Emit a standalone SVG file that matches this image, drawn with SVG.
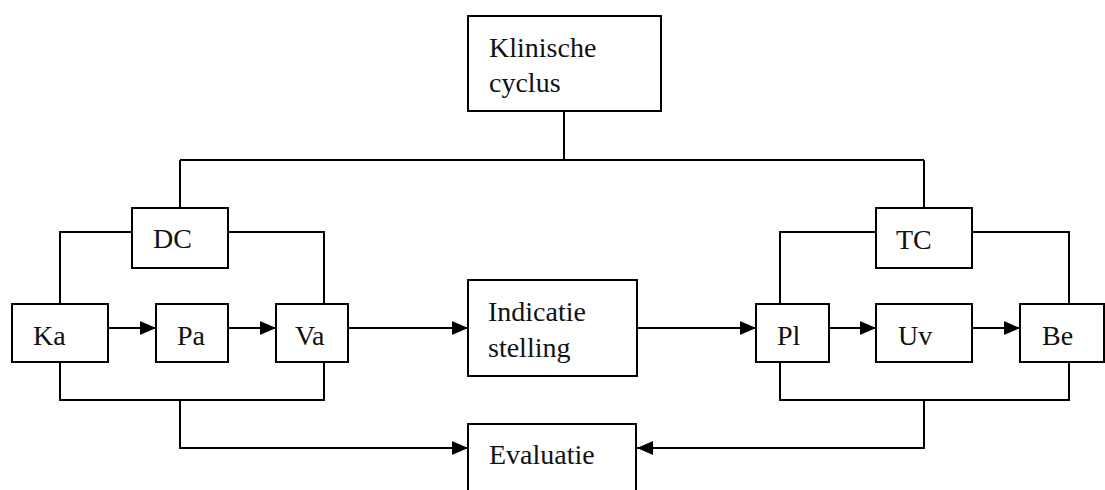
<svg xmlns="http://www.w3.org/2000/svg" width="1105" height="490" viewBox="0 0 1105 490">
<style>
.box{fill:#fff;stroke:#000;stroke-width:2}
.ln{fill:none;stroke:#000;stroke-width:2}
.t{font-family:"Liberation Serif","DejaVu Serif",serif;font-size:28px;fill:#111}
</style>
<defs>
<marker id="ah" markerUnits="userSpaceOnUse" markerWidth="16" markerHeight="14" refX="16" refY="7" orient="auto">
<path d="M0,0 L16,7 L0,14 z" fill="#000"/>
</marker>
</defs>
<rect width="1105" height="490" fill="#fff"/>
<g id="connectors">
<path class="ln" d="M564,111 V160 M180,160 H924 M180,160 V208 M924,160 V208"/>
<path class="ln" d="M132,232 H60 V304 M228,232 H324 V304"/>
<path class="ln" d="M876,232 H780 V304 M972,232 H1069 V304"/>
<path class="ln" d="M60,362 V400 H324 V362 M780,362 V400 H1069 V362"/>
<path class="ln" d="M108,328 H156" marker-end="url(#ah)"/>
<path class="ln" d="M228,328 H276" marker-end="url(#ah)"/>
<path class="ln" d="M348,328 H468" marker-end="url(#ah)"/>
<path class="ln" d="M637,328 H756" marker-end="url(#ah)"/>
<path class="ln" d="M829,328 H876" marker-end="url(#ah)"/>
<path class="ln" d="M972,328 H1020" marker-end="url(#ah)"/>
<path class="ln" d="M180,400 V448 H468" marker-end="url(#ah)"/>
<path class="ln" d="M924,400 V448 H637" marker-end="url(#ah)"/>
</g>
<g id="klinische">
<rect class="box" x="468" y="16" width="193" height="95"/>
<text class="t" x="489" y="57">Klinische</text>
<text class="t" x="489" y="92">cyclus</text>
</g>
<g id="dc"><rect class="box" x="132" y="208" width="96" height="60"/><text class="t" x="153" y="248">DC</text></g>
<g id="tc"><rect class="box" x="876" y="208" width="96" height="60"/><text class="t" x="896" y="249">TC</text></g>
<g id="ka"><rect class="box" x="12" y="304" width="96" height="58"/><text class="t" x="33" y="345">Ka</text></g>
<g id="pa"><rect class="box" x="156" y="304" width="72" height="58"/><text class="t" x="177" y="345">Pa</text></g>
<g id="va"><rect class="box" x="276" y="304" width="72" height="58"/><text class="t" x="295" y="345">Va</text></g>
<g id="indicatie">
<rect class="box" x="468" y="280" width="169" height="96"/>
<text class="t" x="488" y="321">Indicatie</text>
<text class="t" x="488" y="357">stelling</text>
</g>
<g id="pl"><rect class="box" x="756" y="304" width="73" height="58"/><text class="t" x="777" y="345">Pl</text></g>
<g id="uv"><rect class="box" x="876" y="304" width="96" height="58"/><text class="t" x="898" y="345">Uv</text></g>
<g id="be"><rect class="box" x="1020" y="304" width="84" height="58"/><text class="t" x="1042" y="345">Be</text></g>
<g id="evaluatie">
<rect class="box" x="468" y="424" width="168" height="75"/>
<text class="t" x="489" y="464">Evaluatie</text>
</g>
</svg>
